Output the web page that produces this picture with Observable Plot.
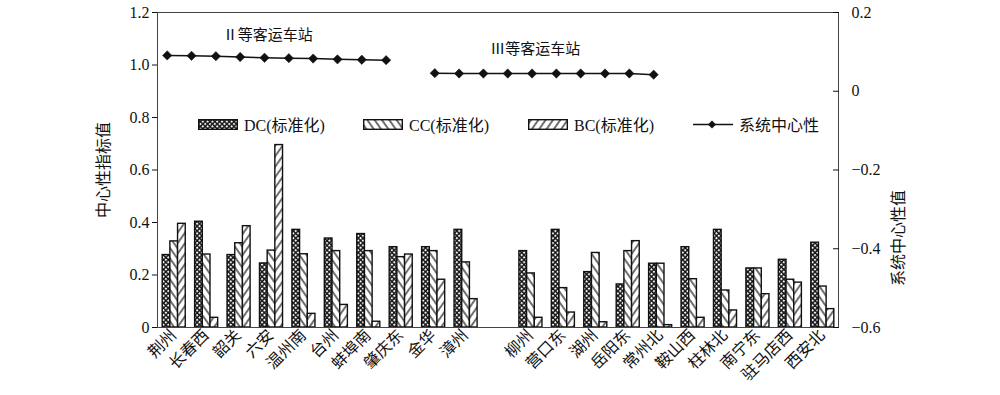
<!DOCTYPE html>
<html>
<head>
<meta charset="utf-8">
<script src="https://cdn.jsdelivr.net/npm/d3@7"></script>
<script src="https://cdn.jsdelivr.net/npm/@observablehq/plot@0.6"></script>
<style>
  html, body { margin: 0; padding: 0; background: #fff; }
  #wrap { position: relative; width: 1000px; height: 395px; font-family: "Liberation Serif", "Noto Sans CJK SC", serif; color: #111; }
  #legend { position: absolute; left: 198px; top: 114px; display: flex; font-size: 16px; }
  .item { width: 165px; display: flex; align-items: center; height: 20px; white-space: nowrap; }
  .item svg { margin-right: 6px; }
</style>
</head>
<body>
<svg width="0" height="0" style="position:absolute">
  <defs>
    <pattern id="patDC" width="3.4" height="3.4" patternUnits="userSpaceOnUse" patternTransform="rotate(45)">
      <rect width="3.4" height="3.4" fill="#151515"></rect>
      <rect x="0.9" y="0.9" width="1.9" height="1.9" fill="#fff"></rect>
    </pattern>
    <pattern id="patCC" width="6" height="6" patternUnits="userSpaceOnUse" patternTransform="rotate(-35)">
      <rect width="6" height="6" fill="#fff"></rect>
      <line x1="3" y1="0" x2="3" y2="6" stroke="#111" stroke-width="1.2"></line>
    </pattern>
    <pattern id="patBC" width="6" height="6" patternUnits="userSpaceOnUse" patternTransform="rotate(35)">
      <rect width="6" height="6" fill="#fff"></rect>
      <line x1="3" y1="0" x2="3" y2="6" stroke="#111" stroke-width="1.2"></line>
    </pattern>
  </defs>
</svg>
<div id="wrap">
  <div id="chart"></div>
  <div id="legend"></div>
</div>
<script>
// ---- data ----
const stationsII = ["荆州","长春西","韶关","六安","温州南","台州","蚌埠南","肇庆东","金华","漳州"];
const stationsIII = ["柳州","营口东","湖州","岳阳东","常州北","鞍山西","柱林北","南宁东","驻马店西","西安北"];
const dcII = [0.276,0.403,0.276,0.244,0.372,0.339,0.356,0.306,0.306,0.372];
const ccII = [0.328,0.278,0.321,0.293,0.279,0.291,0.291,0.268,0.291,0.248];
const bcII = [0.395,0.037,0.386,0.695,0.052,0.086,0.022,0.278,0.182,0.108];
const dcIII = [0.291,0.372,0.211,0.164,0.243,0.306,0.372,0.225,0.258,0.323];
const ccIII = [0.206,0.150,0.284,0.291,0.243,0.184,0.141,0.225,0.182,0.156];
const bcIII = [0.037,0.057,0.020,0.329,0.009,0.037,0.065,0.127,0.171,0.070];
const sysII = [0.091,0.090,0.089,0.087,0.085,0.084,0.083,0.081,0.080,0.079];
const sysIII = [0.046,0.045,0.045,0.045,0.045,0.045,0.045,0.045,0.045,0.042];
const groupLabels = ["Ⅱ等客运车站","Ⅲ等客运车站"];
const seriesNames = ["DC(标准化)","CC(标准化)","BC(标准化)","系统中心性"];
const leftTicks = [0,0.2,0.4,0.6,0.8,1.0,1.2];
const rightTicks = [-0.6,-0.4,-0.2,0,0.2];
const leftTitle = "中心性指标值";
const rightTitle = "系统中心性值";

// ---- build tables ----
const groups = [
  {name: groupLabels[0], stations: stationsII, dc: dcII, cc: ccII, bc: bcII, sys: sysII, start: 0, dy: -20},
  {name: groupLabels[1], stations: stationsIII, dc: dcIII, cc: ccIII, bc: bcIII, sys: sysIII, start: 11, dy: -24}
];
const nSlots = 21, lineSlots = 28, lineK = nSlots / lineSlots;
const bars = [[],[],[]];
const sysRows = [];
const tickSlots = [], tickNames = new Map();
groups.forEach(g => {
  g.stations.forEach((s, i) => {
    const slot = g.start + i;
    tickSlots.push(slot + 0.5);
    tickNames.set(slot + 0.5, s);
    [g.dc, g.cc, g.bc].forEach((arr, k) => bars[k].push({slot, k, value: arr[i]}));
    sysRows.push({slot, g: g.name, v: g.sys[i]});
  });
});
const toLeft = v => (v + 0.6) * 1.5;          // right axis -> left axis units
const fromLeft = y => y / 1.5 - 0.6;
const lineX = d => (d.slot + 0.4) * lineK;
const fmtR = v => { const r = Math.round(v * 10) / 10; return r === 0 ? "0" : (r < 0 ? "−" + (-r).toFixed(1) : r.toFixed(1)); };
const fills = ["url(#patDC)","url(#patCC)","url(#patBC)"];
const bw = 0.237, b0 = 0.16;

const labelMarks = groups.map(g => {
  const rows = sysRows.filter(r => r.g === g.name);
  return Plot.text([g.name], {x: d3.mean(rows, lineX), y: toLeft(d3.max(rows, r => r.v)), text: d => d, dx: -9, dy: g.dy, fontSize: 15, fill: "#111"});
});

const chart = Plot.plot({
  width: 1000,
  height: 395,
  marginLeft: 157,
  marginRight: 162,
  marginTop: 12,
  marginBottom: 68,
  style: {fontFamily: "'Liberation Serif', 'Noto Sans CJK SC', serif", fontSize: "16px", color: "#111", background: "#fff"},
  x: {domain: [0, nSlots]},
  y: {domain: [0, 1.2]},
  marks: [
    ...bars.map((rows, k) => Plot.rectY(rows, {
      x1: d => d.slot + b0 + k * bw,
      x2: d => d.slot + b0 + (k + 1) * bw,
      y: "value",
      fill: fills[k],
      stroke: "#111",
      strokeWidth: 1.4
    })),
    Plot.line(sysRows, {x: lineX, y: d => toLeft(d.v), z: "g", stroke: "#111", strokeWidth: 1.5}),
    Plot.dot(sysRows, {x: lineX, y: d => toLeft(d.v), symbol: "diamond2", r: 4.2, fill: "#111", stroke: "#111", strokeWidth: 0.5}),
    ...labelMarks,
    Plot.frame({stroke: "#444", strokeWidth: 1}),
    Plot.axisY({anchor: "left", ticks: leftTicks, tickFormat: d => d === 0 ? "0" : d.toFixed(1), tickSize: 5, tickPadding: 3, fontSize: 16,
      label: leftTitle, labelAnchor: "center", labelOffset: 60, labelArrow: "none"}),
    Plot.axisY({anchor: "right", ticks: rightTicks.map(toLeft), tickFormat: d => fmtR(fromLeft(d)), tickSize: 6, insetRight: 6, tickPadding: 13, fontSize: 16, label: null}),
    Plot.text([rightTitle], {frameAnchor: "right", text: d => d, rotate: -90, dx: 60, dy: 20, fontSize: 16, fill: "#111"}),
    Plot.axisX({ticks: tickSlots, tickFormat: d => tickNames.get(d), tickRotate: -45, tickSize: 0, tickPadding: 5, fontSize: 16, label: null})
  ]
});
document.getElementById("chart").appendChild(chart);

// ---- legend ----
const legend = document.getElementById("legend");
seriesNames.forEach((name, k) => {
  const item = document.createElement("div");
  item.className = "item";
  let sw;
  if (k < 3) {
    sw = `<svg width="40" height="11"><rect x="0.7" y="0.7" width="38.6" height="9.6" fill="${fills[k]}" stroke="#111" stroke-width="1.4"/></svg>`;
  } else {
    sw = `<svg width="40" height="11"><line x1="0" y1="5.5" x2="40" y2="5.5" stroke="#111" stroke-width="1.5"/><path d="M19,1.5 L23,5.5 L19,9.5 L15,5.5Z" fill="#111"/></svg>`;
  }
  item.innerHTML = sw + `<span>${name}</span>`;
  legend.appendChild(item);
});
</script>
</body>
</html>
